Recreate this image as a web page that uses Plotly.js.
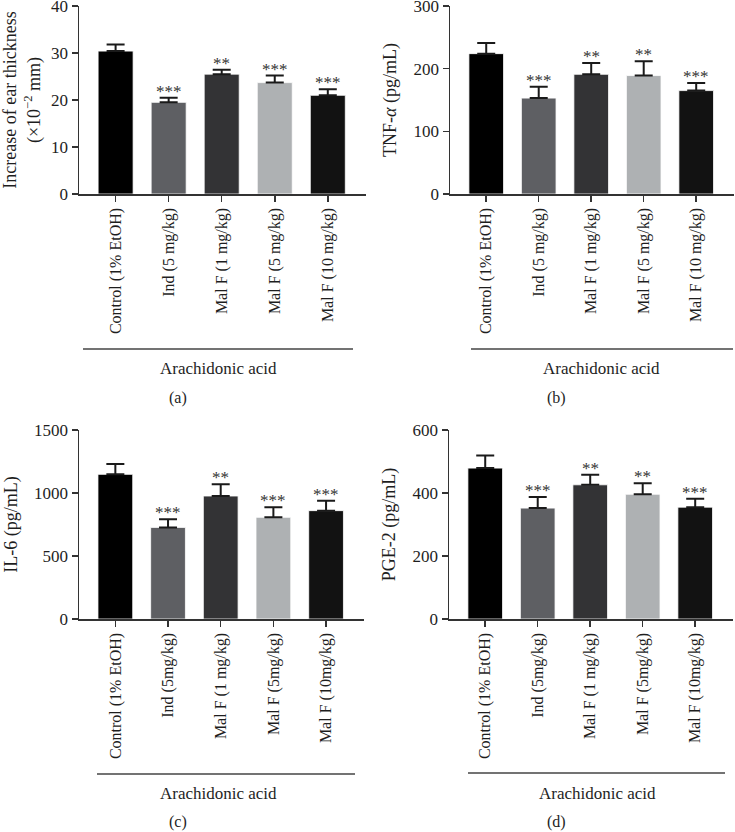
<!DOCTYPE html>
<html>
<head>
<meta charset="utf-8">
<script src="https://cdn.plot.ly/plotly-3.0.1.min.js"></script>
<style>html,body{margin:0;padding:0;background:#fff;}#chart{width:735px;height:832px;}</style>
</head>
<body>
<div id="chart"></div>
<script>
// ---- data ----
var categoriesTop = ["Control (1% EtOH)", "Ind (5 mg/kg)", "Mal F (1 mg/kg)", "Mal F (5 mg/kg)", "Mal F (10 mg/kg)"];
var categoriesBottom = ["Control (1% EtOH)", "Ind (5mg/kg)", "Mal F (1 mg/kg)", "Mal F (5mg/kg)", "Mal F (10mg/kg)"];
var barColors = ["#000000", "#5e5f63", "#333335", "#aeb1b3", "#121212"];

var earValues = [30.4, 19.5, 25.5, 23.7, 21.0];
var earErrors = [1.4, 1.0, 0.95, 1.5, 1.3];
var earStars = ["", "***", "**", "***", "***"];

var tnfValues = [224, 153, 191, 189, 165];
var tnfErrors = [17, 18, 18, 23, 12];
var tnfStars = ["", "***", "**", "**", "***"];

var il6Values = [1148, 727, 976, 807, 860];
var il6Errors = [82, 64, 93, 79, 79];
var il6Stars = ["", "***", "**", "***", "***"];

var pgeValues = [479, 352, 426, 396, 355];
var pgeErrors = [40, 35, 32, 35, 27];
var pgeStars = ["", "***", "**", "**", "***"];

var yTitles = [
  "Increase of ear thickness<br>(×10<sup>−2</sup> mm)",
  "TNF-<i>α</i> (pg/mL)",
  "IL-6 (pg/mL)",
  "PGE-2 (pg/mL)"
];
var yRanges = [[0, 40], [0, 300], [0, 1500], [0, 600]];
var yDticks = [10, 100, 500, 200];
var panelLetters = ["(a)", "(b)", "(c)", "(d)"];
var groupLabel = "Arachidonic acid";

// ---- layout geometry ----
var W = 735, H = 832;
var panels = [
  {cats: categoriesTop, vals: earValues, errs: earErrors, stars: earStars, x0: 79, x1: 366, yTop: 6, yBot: 194, brX0: 83, brX1: 353, brY: 349, txtX: 218, txtY: 368, letX: 178, letY: 398, standoff: 6},
  {cats: categoriesTop, vals: tnfValues, errs: tnfErrors, stars: tnfStars, x0: 450, x1: 734, yTop: 6, yBot: 194, brX0: 471, brX1: 733, brY: 349, txtX: 601, txtY: 368, letX: 556, letY: 398, standoff: 12},
  {cats: categoriesBottom, vals: il6Values, errs: il6Errors, stars: il6Stars, x0: 79, x1: 364, yTop: 430, yBot: 619, brX0: 97, brX1: 355, brY: 774, txtX: 218, txtY: 793, letX: 178, letY: 822, standoff: 12},
  {cats: categoriesBottom, vals: pgeValues, errs: pgeErrors, stars: pgeStars, x0: 449, x1: 733, yTop: 430, yBot: 619, brX0: 468, brX1: 725, brY: 773, txtX: 597, txtY: 793, letX: 556, letY: 822, standoff: 12}
];

var FONT = "Liberation Serif, Times New Roman, serif";
var TXT = "#1e1e1e";
var traces = [];
var layout = {
  width: W, height: H,
  margin: {l: 0, r: 0, t: 0, b: 0},
  paper_bgcolor: "#ffffff",
  plot_bgcolor: "#ffffff",
  showlegend: false,
  font: {family: FONT, size: 16, color: TXT},
  annotations: [],
  shapes: []
};

panels.forEach(function (p, i) {
  var n = i + 1;
  var xa = "x" + (n === 1 ? "" : n), ya = "y" + (n === 1 ? "" : n);
  var xk = "xaxis" + (n === 1 ? "" : n), yk = "yaxis" + (n === 1 ? "" : n);
  traces.push({
    type: "bar",
    x: p.cats,
    y: p.vals,
    xaxis: xa, yaxis: ya,
    width: 0.66,
    marker: {color: barColors, line: {color: "#ffffff", width: 0.8}},
    error_y: {type: "data", symmetric: false, array: p.errs, arrayminus: p.errs.map(function () { return 0; }), color: "#1a1a1a", thickness: 2, width: 9},
    hoverinfo: "none"
  });
  layout[xk] = {
    domain: [p.x0 / W, p.x1 / W],
    anchor: ya,
    type: "category",
    range: [-0.69, 4.72],
    showgrid: false, zeroline: false,
    showline: true, linecolor: "#333333", linewidth: 1.5,
    ticks: "outside", ticklen: 6, tickwidth: 1.5, tickcolor: "#333333",
    tickangle: -90,
    tickfont: {family: FONT, size: 16, color: TXT},
    fixedrange: true
  };
  layout[yk] = {
    domain: [1 - p.yBot / H, 1 - p.yTop / H],
    anchor: xa,
    range: yRanges[i],
    dtick: yDticks[i],
    showgrid: false, zeroline: false,
    showline: true, linecolor: "#333333", linewidth: 1.5,
    ticks: "outside", ticklen: 6, tickwidth: 1.5, tickcolor: "#333333",
    ticklabeloverflow: "allow",
    tickfont: {family: FONT, size: 17, color: TXT},
    title: {text: yTitles[i], font: {family: FONT, size: 18, color: TXT}, standoff: p.standoff},
    fixedrange: true
  };
  p.stars.forEach(function (s, j) {
    if (!s) return;
    layout.annotations.push({
      xref: xa, yref: ya, x: p.cats[j], y: p.vals[j] + p.errs[j],
      text: s, showarrow: false, yanchor: "bottom", yshift: -5,
      font: {family: FONT, size: 17, color: "#333333"}
    });
  });
  layout.shapes.push({
    type: "line", xref: "paper", yref: "paper",
    x0: p.brX0 / W, x1: p.brX1 / W, y0: 1 - p.brY / H, y1: 1 - p.brY / H,
    line: {color: "#444444", width: 1.5}
  });
  layout.annotations.push({
    xref: "paper", yref: "paper", x: p.txtX / W, y: 1 - p.txtY / H,
    text: groupLabel, showarrow: false, xanchor: "center", yanchor: "middle",
    font: {family: FONT, size: 17, color: TXT}
  });
  layout.annotations.push({
    xref: "paper", yref: "paper", x: p.letX / W, y: 1 - p.letY / H,
    text: panelLetters[i], showarrow: false, xanchor: "center", yanchor: "middle",
    font: {family: FONT, size: 16, color: TXT}
  });
});

Plotly.newPlot("chart", traces, layout, {displayModeBar: false, staticPlot: true});
</script>
</body>
</html>
